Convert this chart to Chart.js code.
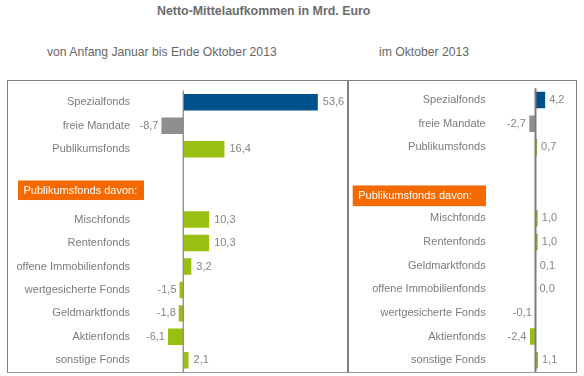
<!DOCTYPE html>
<html>
<head>
<meta charset="utf-8">
<script src="https://cdn.jsdelivr.net/npm/chart.js@4/dist/chart.umd.min.js"></script>
<style>
  html, body { margin:0; padding:0; background:#fff; }
  body { width:584px; height:376px; position:relative; overflow:hidden; font-family:"Liberation Sans", Arial, sans-serif; }
  .t { position:absolute; white-space:nowrap; line-height:15px; }
  .panel { position:absolute; box-sizing:border-box; border:1px solid #808080; border-bottom-color:#9a9a9a; }
  canvas { position:absolute; }
</style>
</head>
<body>
<div class="t" style="left:157px; top:4px; font-size:12.4px; font-weight:bold; color:#6b6b6b;">Netto-Mittelaufkommen in Mrd. Euro</div>
<div class="t" style="left:47px; top:45px; font-size:12.2px; color:#666;">von Anfang Januar bis Ende Oktober 2013</div>
<div class="t" style="left:379px; top:45px; font-size:12.2px; color:#666;">im Oktober 2013</div>
<div class="panel" style="left:7px; top:80px; width:341px; height:293px;"></div>
<div class="panel" style="left:348px; top:80px; width:229px; height:293px;"></div>
<canvas id="c1" style="left:8px; top:81px; width:339px; height:291px;" width="339" height="291"></canvas>
<canvas id="c2" style="left:349px; top:81px; width:227px; height:291px;" width="227" height="291"></canvas>
<script>
// ---- data ----
const categoriesJanOkt = ['Spezialfonds','freie Mandate','Publikumsfonds','','','Mischfonds','Rentenfonds','offene Immobilienfonds','wertgesicherte Fonds','Geldmarktfonds','Aktienfonds','sonstige Fonds'];
const valuesJanOkt = [53.6, -8.7, 16.4, null, null, 10.3, 10.3, 3.2, -1.5, -1.8, -6.1, 2.1];
const categoriesOkt = ['Spezialfonds','freie Mandate','Publikumsfonds','','','Mischfonds','Rentenfonds','Geldmarktfonds','offene Immobilienfonds','wertgesicherte Fonds','Aktienfonds','sonstige Fonds'];
const valuesOkt = [4.2, -2.7, 0.7, null, null, 1.0, 1.0, 0.1, 0.0, -0.1, -2.4, 1.1];
const groupLabel = 'Publikumsfonds davon:';

const BLUE = '#00508c', GRAY = '#8f8f8f', GREEN = '#99bf10', ORANGE = '#f56a00';
function barColors(labels) {
  return labels.map((l, i) => i === 0 ? BLUE : (i === 1 ? GRAY : GREEN));
}
const FONT = '"Liberation Sans", Arial, sans-serif';

const helperPlugin = {
  id: 'helper',
  afterDatasetsDraw(chart, args, opts) {
    const ctx = chart.ctx;
    const xs = chart.scales.x, ys = chart.scales.y;
    const ca = chart.chartArea;
    // zero line
    const x0 = xs.getPixelForValue(0);
    ctx.save();
    ctx.strokeStyle = opts.zeroColor;
    ctx.lineWidth = opts.zeroWidth;
    ctx.beginPath();
    ctx.moveTo(x0, ca.top);
    ctx.lineTo(x0, ca.bottom);
    ctx.stroke();
    // value labels
    const meta = chart.getDatasetMeta(0);
    const data = chart.data.datasets[0].data;
    ctx.font = '11px ' + FONT;
    ctx.fillStyle = '#858585';
    ctx.textBaseline = 'middle';
    meta.data.forEach((el, i) => {
      const v = data[i];
      if (v === null || v === undefined) return;
      const txt = v.toFixed(1).replace('.', ',');
      if (v >= 0) {
        ctx.textAlign = 'left';
        ctx.fillText(txt, Math.max(el.x, el.base) + opts.gapPos, el.y);
      } else {
        ctx.textAlign = 'right';
        ctx.fillText(txt, Math.min(el.x, el.base) - opts.gapNeg, el.y);
      }
    });
    // group header (orange)
    const cy = ys.getPixelForValue(opts.groupPos);
    const left = opts.groupLeft - chart.canvas.offsetLeft;
    ctx.fillStyle = ORANGE;
    ctx.fillRect(left, cy - opts.groupH / 2, opts.groupW, opts.groupH);
    ctx.fillStyle = '#ffffff';
    ctx.font = '11px ' + FONT;
    ctx.textAlign = 'left';
    ctx.fillText(groupLabel, left + 5.5, cy + 0.5);
    ctx.restore();
  }
};

function makeChart(id, labels, values, cfg) {
  return new Chart(document.getElementById(id), {
    type: 'bar',
    data: {
      labels: labels,
      datasets: [{
        data: values,
        backgroundColor: barColors(labels),
        borderWidth: 0,
        barPercentage: 0.7,
        categoryPercentage: 1
      }]
    },
    options: {
      indexAxis: 'y',
      responsive: false,
      animation: false,
      events: [],
      layout: { padding: { top: cfg.padTop, bottom: 0, left: 0, right: cfg.padRight } },
      plugins: {
        legend: { display: false },
        tooltip: { enabled: false },
        helper: cfg.helper
      },
      scales: {
        x: { display: false, min: cfg.min, max: cfg.max },
        y: {
          grid: { display: false, drawTicks: false },
          border: { display: false },
          ticks: { color: '#7b7b7b', font: { family: FONT, size: 11 }, padding: cfg.tickPad, autoSkip: false },
          afterFit(s) { s.width = cfg.axisW; s.paddingTop = 0; s.paddingBottom = 0; }
        }
      }
    },
    plugins: [helperPlugin]
  });
}

makeChart('c1', categoriesJanOkt, valuesJanOkt, {
  padTop: 9.6, padRight: 8.1, min: -17, max: 62, axisW: 132.6, tickPad: 10.6,
  helper: { zeroColor: '#8a8a8a', zeroWidth: 1.3, gapPos: 5, gapNeg: 3, groupPos: 3.75, groupLeft: 18, groupW: 126, groupH: 19.5 }
});
makeChart('c2', categoriesOkt, valuesOkt, {
  padTop: 7.2, padRight: 6, min: -10, max: 15, axisW: 163.5, tickPad: 26.8,
  helper: { zeroColor: '#7a7a7a', zeroWidth: 2, gapPos: 4, gapNeg: 3.5, groupPos: 4.05, groupLeft: 352.7, groupW: 133.3, groupH: 20.7 }
});
</script>
</body>
</html>
